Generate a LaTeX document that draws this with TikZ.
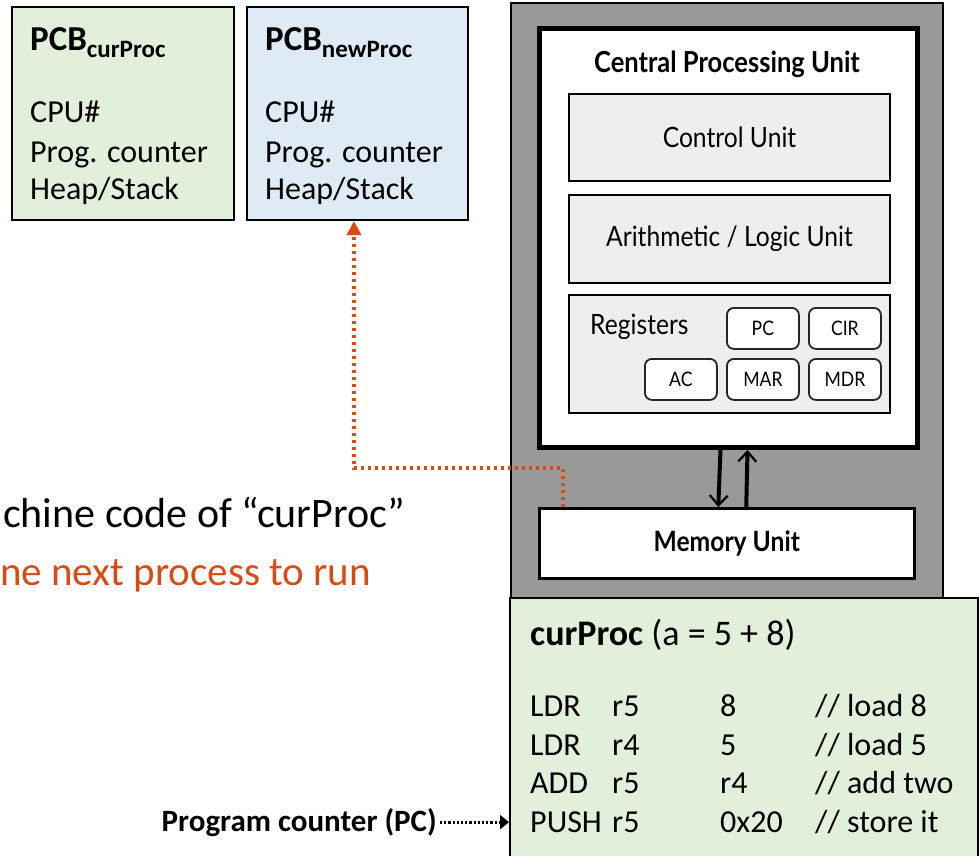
\documentclass[tikz,border=0pt]{standalone}
\usepackage{fontspec}
\setmainfont{Carlito}
\newfontfamily\cpufont[FakeStretch=0.88]{Lato}
\usetikzlibrary{arrows.meta}
\definecolor{pcbgreen}{RGB}{226,239,218}
\definecolor{pcbblue}{RGB}{222,235,247}
\definecolor{orng}{RGB}{214,76,20}
\definecolor{cpugrey}{RGB}{153,153,153}
\definecolor{unitgrey}{RGB}{238,238,238}
\begin{document}
\begin{tikzpicture}[x=1pt,y=-1pt,
  box/.style={draw=black, line width=2pt, anchor=north west, inner sep=0pt},
  txt/.style={anchor=base west, inner sep=0pt, font=\fontsize{32}{38}\selectfont},
  unit/.style={box, fill=unitgrey, minimum width=321pt, font=\cpufont\fontsize{28}{32}\selectfont},
  reg/.style={box, fill=white, rounded corners=7pt, line width=1.8pt, draw=black!85, minimum width=72pt, minimum height=41pt, font=\cpufont\fontsize{20}{24}\selectfont},
  bus/.style={line width=4pt, -{Straight Barb[length=10pt,width=18pt,line width=2.2pt]}},
  orngdot/.style={draw=orng, line width=3.5pt, dash pattern=on 3.5pt off 3.5pt, -{Triangle[length=14pt,width=14pt]}},
  pcdot/.style={line width=3pt, dash pattern=on 2.2pt off 2pt, -{Triangle[length=9pt,width=14pt]}}
]
\useasboundingbox (0,0) rectangle (979,855);

% PCB boxes
\node[box, fill=pcbgreen, minimum width=222pt, minimum height=213pt] (pcbcur) at (11,6) {};
\node[box, fill=pcbblue, minimum width=221pt, minimum height=213pt] (pcbnew) at (246,6) {};
\node[txt] (pcbcurt) at (30,50) {\fontsize{35}{40}\selectfont\textbf{PCB}\raisebox{-7pt}{\fontsize{25}{28}\selectfont\textbf{curProc}}};
\node[txt] (pcbcur1) at (30,122) {CPU\#};
\node[txt] (pcbcur2) at (30,162) {Prog. counter};
\node[txt] (pcbcur3) at (30,199) {Heap/Stack};
\node[txt] (pcbnewt) at (265,50) {\fontsize{35}{40}\selectfont\textbf{PCB}\raisebox{-7pt}{\fontsize{25}{28}\selectfont\textbf{newProc}}};
\node[txt] (pcbnew1) at (265,122) {CPU\#};
\node[txt] (pcbnew2) at (265,162) {Prog. counter};
\node[txt] (pcbnew3) at (265,199) {Heap/Stack};

% Computer
\node[box, fill=cpugrey, minimum width=432pt, minimum height=600pt] (comp) at (510,2) {};
\node[box, fill=white, line width=5pt, minimum width=378pt, minimum height=419pt] (cpu) at (537,26) {};
\node[inner sep=0pt, font=\cpufont\bfseries\fontsize{29}{32}\selectfont] (cputitle) at (727,64) {Central Processing Unit};
\node[unit, minimum height=87pt] (cu) at (568,93) {Control Unit};
\node[unit, minimum height=88pt] (alu) at (568,194) {Arithmetic / Logic Unit};
\node[unit, minimum height=118pt] (regs) at (568,294) {};
\node[anchor=base west, inner sep=0pt, font=\cpufont\fontsize{28}{32}\selectfont] (regst) at (590,334) {Registers};
\node[reg] (pc) at (726,307) {PC};
\node[reg] (cir) at (808,307) {CIR};
\node[reg] (ac) at (644,358) {AC};
\node[reg] (mar) at (726,358) {MAR};
\node[reg] (mdr) at (808,358) {MDR};
\node[box, fill=white, line width=2.5pt, minimum width=375pt, minimum height=70pt, font=\cpufont\bfseries\fontsize{28}{32}\selectfont] (mem) at (538,507) {Memory Unit};
\draw[bus] ([xshift=-8pt]cpu.south) -- ([xshift=-8.5pt]mem.north);
\draw[bus] ([xshift=19.5pt]mem.north) -- ([xshift=19pt]cpu.south);

% orange dotted connector
\draw[orngdot] ([xshift=25pt]mem.north west) -- ++(0,-39) -| ([xshift=108pt]pcbnew.south west);

% texts on the left
\node[anchor=base east, inner sep=0pt, font=\fontsize{42}{50}\selectfont] (mc) at (405,527) {chine code of “curProc”};
\node[anchor=base west, inner sep=0pt, text=orng, font=\fontsize{41}{50}\selectfont] (np) at (0,585) {ne next process to run};

% curProc box
\node[box, fill=pcbgreen, minimum width=468pt, minimum height=262pt] (curproc) at (509,597) {};
\node[txt] (cpt) at (530,645) {\fontsize{36}{40}\selectfont\textbf{curProc} (a = 5 + 8)};
\node[txt] (a1) at (530,716) {LDR};
\node[txt] (b1) at (612,716) {r5};
\node[txt] (c1) at (720,716) {8};
\node[txt] (d1) at (815,716) {// load 8};
\node[txt] (a2) at (530,755) {LDR};
\node[txt] (b2) at (612,755) {r4};
\node[txt] (c2) at (720,755) {5};
\node[txt] (d2) at (815,755) {// load 5};
\node[txt] (a3) at (530,793) {ADD};
\node[txt] (b3) at (612,793) {r5};
\node[txt] (c3) at (720,793) {r4};
\node[txt] (d3) at (815,793) {// add two};
\node[txt] (a4) at (530,832) {PUSH};
\node[txt] (b4) at (612,832) {r5};
\node[txt] (c4) at (720,832) {0x20};
\node[txt] (d4) at (815,832) {// store it};

\node[anchor=base east, inner sep=0pt, font=\bfseries\fontsize{31}{34}\selectfont] (pclabel) at (437,831) {Program counter (PC)};
\draw[pcdot] ([xshift=3pt]pclabel.east) -- (curproc.west |- pclabel.east);
\end{tikzpicture}
\end{document}
